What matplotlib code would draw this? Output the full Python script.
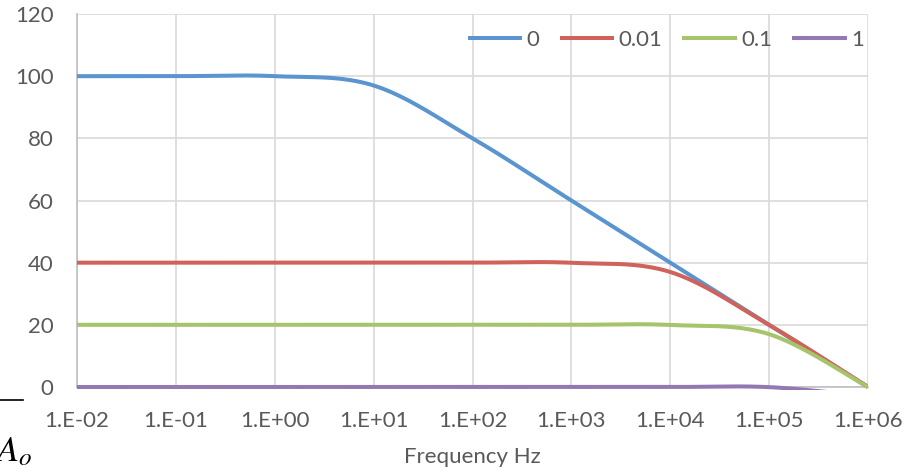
import numpy as np
import matplotlib
matplotlib.use("Agg")
import matplotlib.pyplot as plt
from matplotlib.patches import Rectangle

# -----------------------------
# Data (gain in dB per decade)
# -----------------------------
freq_labels = ["1.E-02", "1.E-01", "1.E+00", "1.E+01", "1.E+02",
               "1.E+03", "1.E+04", "1.E+05", "1.E+06"]
series_names = ["0", "0.01", "0.1", "1"]
gain_0 = [100, 100, 100, 97, 80, 60, 40, 20, 0]
gain_001 = [40, 40, 40, 40, 40, 39.96, 37, 19.96, 0]
gain_01 = [20, 20, 20, 20, 20, 20, 19.96, 17, -0.04]
gain_1 = [0, 0, 0, 0, 0, 0, 0, -0.04, -3]

colors = ["#5B95CF", "#D0625C", "#A6C46A", "#9478B4"]
TEXT_GRAY = "#595959"
FS = 16

plt.rcParams["font.family"] = ["Lato", "DejaVu Sans"]
plt.rcParams["mathtext.fontset"] = "stix"


def smooth(y, n=40):
    # Catmull-Rom style smoothing, like the office "smoothed line" option
    y = np.asarray(y, dtype=float)
    x = np.arange(len(y), dtype=float)
    px = np.concatenate([[x[0]], x, [x[-1]]])
    py = np.concatenate([[y[0]], y, [y[-1]]])
    xs, ys = [], []
    for i in range(len(y) - 1):
        p0, p1, p2, p3 = px[i], px[i + 1], px[i + 2], px[i + 3]
        q0, q1, q2, q3 = py[i], py[i + 1], py[i + 2], py[i + 3]
        c1x, c1y = p1 + (p2 - p0) / 6, q1 + (q2 - q0) / 6
        c2x, c2y = p2 - (p3 - p1) / 6, q2 - (q3 - q1) / 6
        t = np.linspace(0, 1, n)
        b0 = (1 - t) ** 3
        b1 = 3 * (1 - t) ** 2 * t
        b2 = 3 * (1 - t) * t ** 2
        b3 = t ** 3
        xs.append(b0 * p1 + b1 * c1x + b2 * c2x + b3 * p2)
        ys.append(b0 * q1 + b1 * c1y + b2 * c2y + b3 * q2)
    return np.concatenate(xs), np.concatenate(ys)


fig = plt.figure(figsize=(9.12, 4.73), dpi=100)
ax = fig.add_axes([0.0844, 0.1818, 0.8674, 0.7886])

# clip region: the plot area plus a few pixels below the zero line
clip_rect = Rectangle((0, -0.9), len(freq_labels) - 1, 121, transform=ax.transData,
                      facecolor="none", edgecolor="none")

for name, vals, col in zip(series_names, [gain_0, gain_001, gain_01, gain_1], colors):
    sx, sy = smooth(vals)
    line, = ax.plot(sx, sy, color=col, lw=2.9, label=name, solid_capstyle="butt",
                    zorder=3)
    line.set_clip_path(clip_rect)

ax.set_xlim(0, len(freq_labels) - 1)
ax.set_ylim(0, 120)
ax.set_xticks(range(len(freq_labels)))
ax.set_xticklabels(freq_labels)
ax.set_yticks(range(0, 121, 20))

ax.grid(True, color="#D9D9D9", lw=1.2)
ax.set_axisbelow(True)
for side in ["top", "right"]:
    ax.spines[side].set_visible(False)
for side in ["left", "bottom"]:
    ax.spines[side].set_color("#BFBFBF")
    ax.spines[side].set_linewidth(1.2)
    ax.spines[side].set_zorder(1)

ax.tick_params(axis="both", length=0, labelsize=FS, labelcolor=TEXT_GRAY)
ax.tick_params(axis="y", pad=17)
ax.tick_params(axis="x", pad=17)

ax.set_xlabel("Frequency Hz", fontsize=FS, color=TEXT_GRAY, labelpad=12)

ax.legend(loc="center right", bbox_to_anchor=(864 / 912, 1 - 40 / 473),
          bbox_transform=fig.transFigure, ncol=4, frameon=False,
          fontsize=FS, handlelength=2.45, handletextpad=0.2, columnspacing=0.9,
          borderpad=0, borderaxespad=0, labelcolor=TEXT_GRAY)

# cropped fragment of a formula at the bottom left
fig.add_artist(plt.Line2D([0, 23 / 912], [1 - 400 / 473, 1 - 400 / 473],
                          color="black", lw=1.2))
fig.text(-0.006, 0.025, r"$A_o$", fontsize=26, color="black")

fig.savefig("out.png", dpi=100)
